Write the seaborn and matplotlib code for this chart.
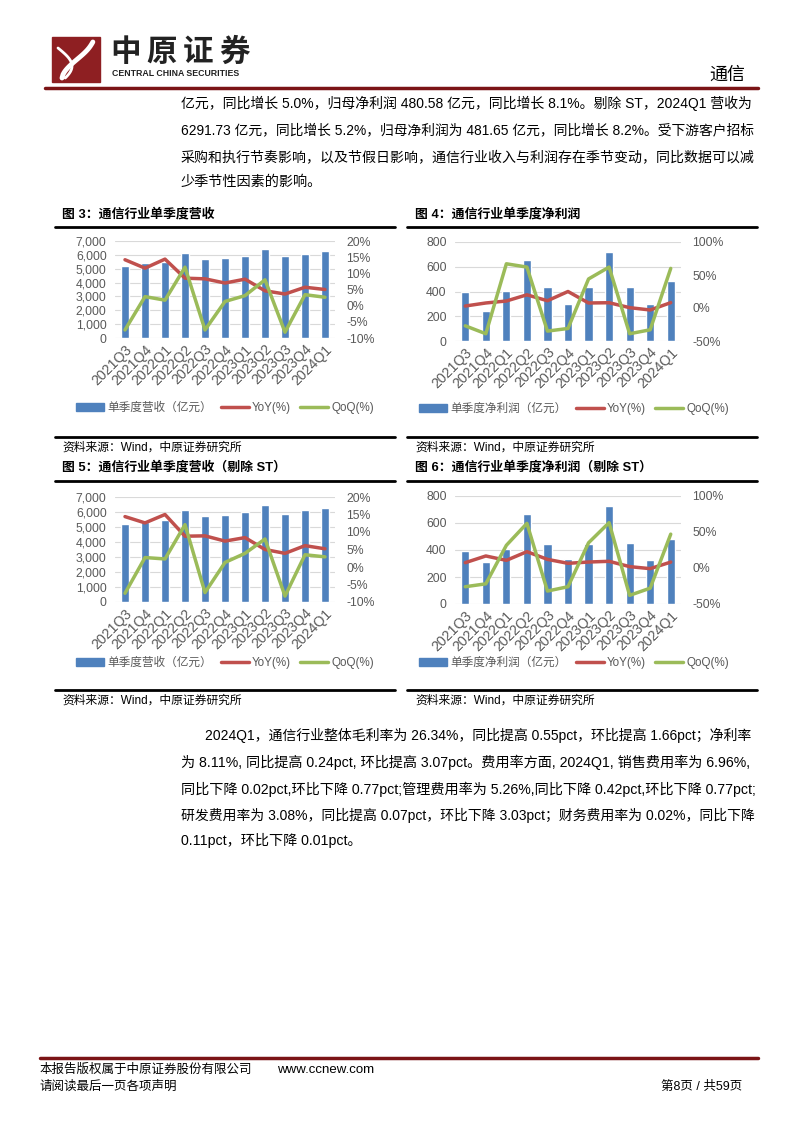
import numpy as np
import pandas as pd
import matplotlib
matplotlib.use('Agg')
import matplotlib.pyplot as plt
import seaborn as sns
from matplotlib.patches import Patch, Rectangle
from matplotlib.lines import Line2D
from matplotlib.ticker import FuncFormatter

sns.set_theme(style='white')
plt.rcParams['font.family'] = ['Liberation Sans', 'Noto Sans CJK SC', 'DejaVu Sans']
plt.rcParams['axes.unicode_minus'] = False

# ---- data ----
quarters = ['2021Q3', '2021Q4', '2022Q1', '2022Q2', '2022Q3', '2022Q4',
            '2023Q1', '2023Q2', '2023Q3', '2023Q4', '2024Q1']

rev = [5230, 5400, 5510, 6150, 5700, 5780, 5950, 6430, 5900, 6090, 6300]
rev_yoy = [14.2, 11.6, 14.4, 8.5, 8.3, 7.0, 8.2, 4.6, 3.6, 5.7, 5.0]
rev_qoq = [-7.5, 2.8, 1.7, 11.9, -7.5, 1.3, 3.1, 8.0, -8.2, 3.4, 2.6]

np_ = [392, 240, 405, 657, 435, 303, 438, 719, 438, 295, 481]
np_yoy = [3, 7.6, 10.6, 20, 11, 25, 7.6, 8, 0.5, -3, 8.1]
np_qoq = [-27, -39, 67, 62, -35, -31, 44, 62, -39, -33, 60]

rev_st = [5230, 5320, 5500, 6160, 5720, 5790, 5990, 6470, 5880, 6120, 6292]
rev_st_yoy = [14.4, 12.6, 15.0, 8.8, 8.9, 7.4, 8.4, 5.0, 3.9, 6.1, 5.2]
rev_st_qoq = [-7.5, 2.7, 2.3, 12.1, -7.3, 1.3, 3.9, 8.0, -8.3, 3.5, 2.9]

np_st = [395, 311, 407, 664, 444, 331, 444, 723, 452, 326, 482]
np_st_yoy = [7.4, 16.7, 10.6, 22.7, 12, 6.5, 8.3, 9.3, 1.9, -0.9, 8.2]
np_st_qoq = [-26, -22, 31.5, 62, -32, -26, 35, 63, -38, -28, 47]

BLUE = '#4F81BD'
RED = '#C0504D'
GREEN = '#9BBB59'
GRAY = '#595959'
DARKRED = '#7B1416'

W, H = 794, 1123
fig = plt.figure(figsize=(W / 100, H / 100), dpi=100)
renderer = fig.canvas.get_renderer()


def box(x0, y0, x1, y1):
    return [x0 / W, 1 - y1 / H, (x1 - x0) / W, (y1 - y0) / H]


def txt(x, y, s, **kw):
    kw.setdefault('va', 'center')
    kw.setdefault('fontsize', 10.5)
    kw.setdefault('color', 'black')
    return fig.text(x / W, 1 - y / H, s, **kw)


def fit(x0, x1, y, s, fs=10.5):
    # shrink a full paragraph line so it ends at x1 like the justified original
    t = txt(x0, y, s, fontsize=fs)
    w = t.get_window_extent(renderer).width
    if w > (x1 - x0):
        t.set_fontsize(fs * (x1 - x0) / w)
    return t


def hline(x0, x1, y, color='black', lw=2.0):
    fig.add_artist(Line2D([x0 / W, x1 / W], [1 - y / H, 1 - y / H],
                          color=color, lw=lw, transform=fig.transFigure))


def combo(rect, bars, yoy, qoq, ylim, ystep, rlim, rstep, bar_label, leg_xy):
    df = pd.DataFrame({'q': quarters, 'v': bars, 'yoy': yoy, 'qoq': qoq})
    ax = fig.add_axes(box(*rect))
    sns.barplot(data=df, x='q', y='v', color=BLUE, width=0.4, ax=ax,
                saturation=1, zorder=2)
    ax.set_ylim(*ylim)
    ax.set_yticks(np.arange(ylim[0], ylim[1] + 1, ystep))
    ax.yaxis.set_major_formatter(FuncFormatter(lambda v, p: f'{v:,.0f}'))
    ax.set_xlim(-0.5, len(quarters) - 0.5)
    ax.grid(axis='y', color='#D9D9D9', lw=0.8, zorder=0)
    ax.set_axisbelow(True)
    for s in ax.spines.values():
        s.set_visible(False)
    ax.set_xlabel('')
    ax.set_ylabel('')
    ax.tick_params(axis='y', labelsize=8.8, labelcolor=GRAY, length=0, pad=6)
    ax.tick_params(axis='x', length=0, pad=3)
    ax.set_xticks(range(len(quarters)))
    ax.set_xticklabels(quarters, rotation=45, ha='right', rotation_mode='anchor',
                       fontsize=10.2, color=GRAY)

    ax2 = ax.twinx()
    sns.lineplot(data=df, x='q', y='yoy', color=RED, lw=2.5, ax=ax2, sort=False)
    sns.lineplot(data=df, x='q', y='qoq', color=GREEN, lw=2.5, ax=ax2, sort=False)
    ax2.set_ylim(*rlim)
    ax2.set_yticks(np.arange(rlim[0], rlim[1] + 0.1, rstep))
    ax2.yaxis.set_major_formatter(FuncFormatter(lambda v, p: f'{v:.0f}%'))
    ax2.set_xlim(-0.5, len(quarters) - 0.5)
    for s in ax2.spines.values():
        s.set_visible(False)
    ax2.set_ylabel('')
    ax2.set_xlabel('')
    ax2.grid(False)
    ax2.tick_params(axis='y', labelsize=8.8, labelcolor=GRAY, length=0, pad=8)

    handles = [Patch(color=BLUE, label=bar_label),
               Line2D([], [], color=RED, lw=2.5, label='YoY(%)'),
               Line2D([], [], color=GREEN, lw=2.5, label='QoQ(%)')]
    fig.legend(handles=handles, loc='center', ncol=3, frameon=False,
               bbox_to_anchor=(leg_xy[0] / W, 1 - leg_xy[1] / H),
               fontsize=8.4, handlelength=2.4, handleheight=0.6,
               handletextpad=0.25, columnspacing=0.8, labelcolor=GRAY)


# ---- header ----
fig.add_artist(Rectangle((52 / W, 1 - 82 / H), 48 / W, 45 / H,
                         transform=fig.transFigure, color='#8E1F22'))
t = np.linspace(0, 1, 50)
fig.add_artist(Line2D((62 + 30 * t + 6 * np.sin(t * 3)) / W,
                      1 - (78 - 36 * t ** 0.6) / H, color='white', lw=3.5,
                      transform=fig.transFigure))
fig.add_artist(Line2D((58 + 14 * np.sin(t * 2.6)) / W,
                      1 - (48 + 30 * t) / H, color='white', lw=2.0,
                      transform=fig.transFigure))
for i, ch in enumerate('中原证券'):
    txt(126 + i * 36, 53, ch, fontsize=22, fontweight='bold', ha='center',
        color='#222222')
txt(112, 73, 'CENTRAL CHINA SECURITIES', fontsize=6.3, fontweight='bold',
    color='#222222')
txt(745, 75, '通信', fontsize=13, ha='right')
hline(45, 758, 88, color=DARKRED, lw=2.5)

# ---- top paragraph ----
fit(181, 755, 103, '亿元，同比增长 5.0%，归母净利润 480.58 亿元，同比增长 8.1%。剔除 ST，2024Q1 营收为')
fit(181, 755, 130, '6291.73 亿元，同比增长 5.2%，归母净利润为 481.65 亿元，同比增长 8.2%。受下游客户招标')
fit(181, 755, 157, '采购和执行节奏影响，以及节假日影响，通信行业收入与利润存在季节变动，同比数据可以减')
txt(181, 182, '少季节性因素的影响。', fontsize=10.2)

# ---- captions and rules ----
txt(62, 214, '图 3：通信行业单季度营收', fontsize=9.3, fontweight='bold')
txt(415, 214, '图 4：通信行业单季度净利润', fontsize=9.3, fontweight='bold')
hline(55, 395, 227)
hline(407, 757, 227)
hline(55, 395, 437)
hline(407, 757, 437)
txt(62, 448, '资料来源：Wind，中原证券研究所', fontsize=8.5)
txt(415, 448, '资料来源：Wind，中原证券研究所', fontsize=8.5)
txt(62, 467, '图 5：通信行业单季度营收（剔除 ST）', fontsize=9.3, fontweight='bold')
txt(415, 467, '图 6：通信行业单季度净利润（剔除 ST）', fontsize=9.3, fontweight='bold')
hline(55, 395, 481)
hline(407, 757, 481)
hline(55, 395, 690)
hline(407, 757, 690)
txt(62, 701, '资料来源：Wind，中原证券研究所', fontsize=8.5)
txt(415, 701, '资料来源：Wind，中原证券研究所', fontsize=8.5)

# ---- charts ----
combo((115, 241, 335, 338), rev, rev_yoy, rev_qoq, (0, 7000), 1000,
      (-10, 20), 5, '单季度营收（亿元）', (225, 408))
combo((455, 242, 681, 341), np_, np_yoy, np_qoq, (0, 800), 200,
      (-50, 100), 50, '单季度净利润（亿元）', (574, 409))
combo((115, 497, 335, 602), rev_st, rev_st_yoy, rev_st_qoq, (0, 7000), 1000,
      (-10, 20), 5, '单季度营收（亿元）', (225, 663))
combo((455, 496, 681, 604), np_st, np_st_yoy, np_st_qoq, (0, 800), 200,
      (-50, 100), 50, '单季度净利润（亿元）', (574, 663))

# ---- bottom paragraph ----
fit(205, 755, 735, '2024Q1，通信行业整体毛利率为 26.34%，同比提高 0.55pct，环比提高 1.66pct；净利率')
fit(181, 755, 762, '为 8.11%, 同比提高 0.24pct, 环比提高 3.07pct。费用率方面, 2024Q1, 销售费用率为 6.96%,')
fit(181, 760, 789, '同比下降 0.02pct,环比下降 0.77pct;管理费用率为 5.26%,同比下降 0.42pct,环比下降 0.77pct;')
fit(181, 755, 815, '研发费用率为 3.08%，同比提高 0.07pct，环比下降 3.03pct；财务费用率为 0.02%，同比下降')
txt(181, 840, '0.11pct，环比下降 0.01pct。', fontsize=10.2)

# ---- footer ----
hline(40, 758, 1058, color=DARKRED, lw=2.5)
txt(40, 1070, '本报告版权属于中原证券股份有限公司', fontsize=9)
txt(277, 1070, 'www.ccnew.com', fontsize=9.5)
txt(40, 1087, '请阅读最后一页各项声明', fontsize=9)
txt(742, 1087, '第8页 / 共59页', fontsize=9, ha='right')

fig.savefig('out.png', dpi=100)
